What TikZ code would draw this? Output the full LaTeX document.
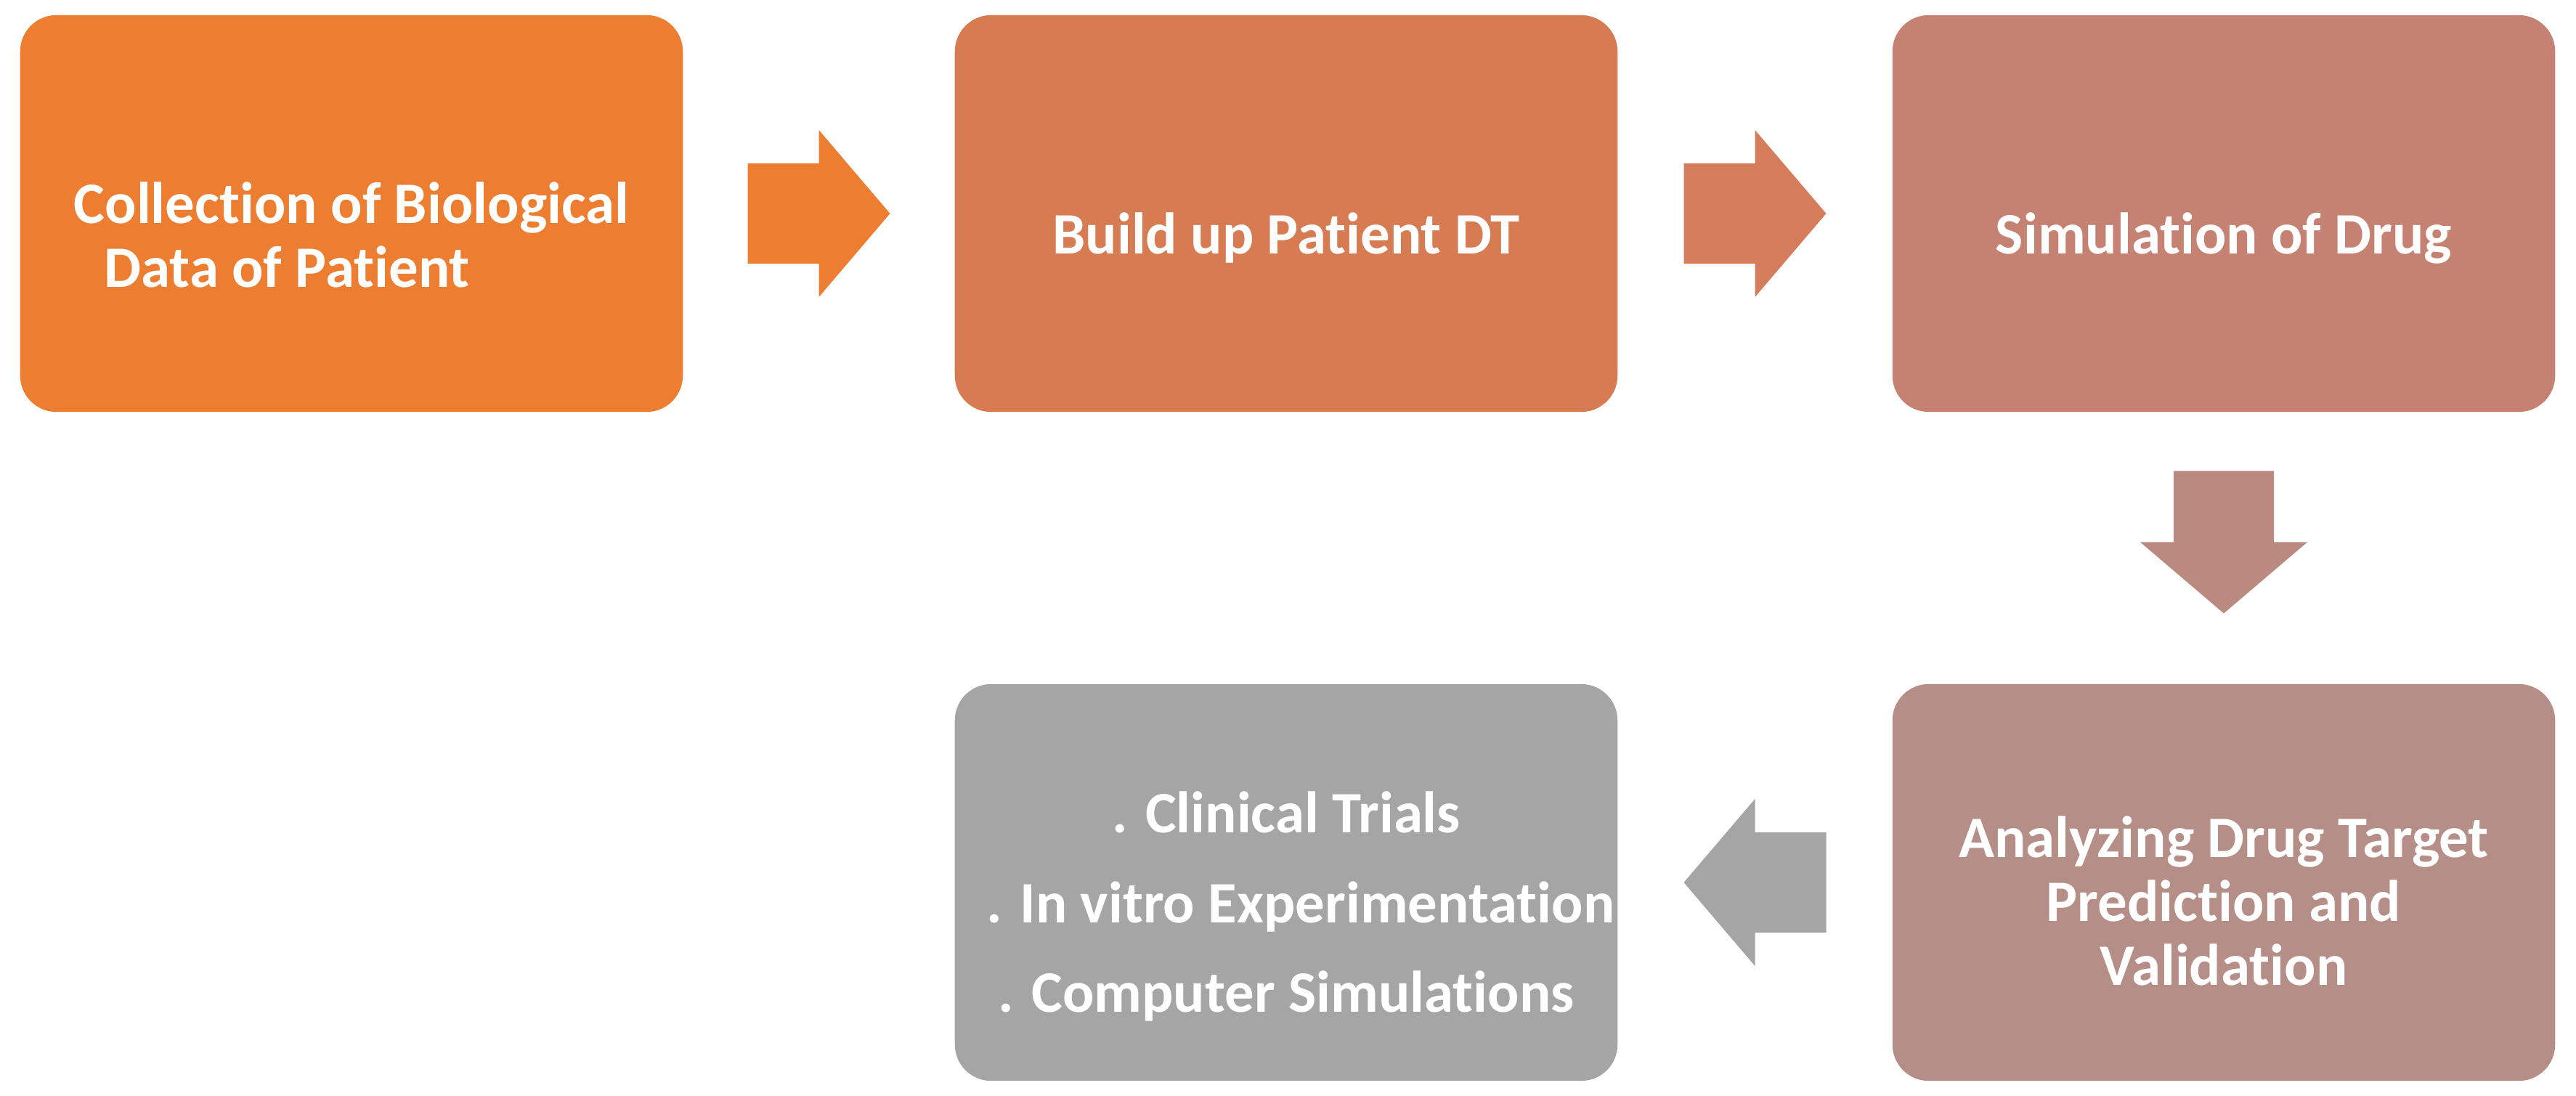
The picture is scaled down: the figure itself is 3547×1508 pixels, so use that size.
\documentclass[tikz,border=0pt]{standalone}
\usepackage{fontspec}
\setmainfont{Carlito}[Ligatures=NoCommon]
\usetikzlibrary{calc}
\definecolor{stageA}{HTML}{ED7D31}
\definecolor{stageB}{HTML}{D67B52}
\definecolor{stageC}{HTML}{C58272}
\definecolor{stageD}{HTML}{B48E87}
\definecolor{stageE}{HTML}{A5A5A5}
\definecolor{flowB}{HTML}{D57C5A}
\definecolor{flowC}{HTML}{BA8A80}
\tikzset{
  stage/.style={rounded corners=0.5cm, minimum width=9.12cm, minimum height=5.46cm, inner sep=0pt},
  stagetext/.style={text=white, font=\bfseries\fontsize{23}{25}\selectfont, align=center, inner sep=0pt}
}
\begin{document}
\begin{tikzpicture}[x=0.01cm, y=0.01cm]
  \useasboundingbox (0,0) rectangle (3547,1508);
  \path
    (484,1214) node[stage, fill=stageA] (collect){}
    (1771,1214) node[stage, fill=stageB] (build){}
    (3062,1214) node[stage, fill=stageC] (simulate){}
    (3062,293) node[stage, fill=stageD] (analyze){}
    (1771,293) node[stage, fill=stageE] (trials){};
  % texts
  \node[stagetext, align=left] (collect text) at ($(collect.center)+(0,-29)$)
    {Collection of Biological\\\hspace*{0.42cm}Data of Patient};
  \node[stagetext, anchor=base] (build text) at ($(build.center)+(0,-56)$) {Build up Patient DT};
  \node[stagetext, anchor=base] (simulate text) at ($(simulate.center)+(0,-56)$) {Simulation of Drug};
  \node[stagetext] (analyze text) at ($(analyze.center)+(0,-25)$)
    {Analyzing Drug Target\\Prediction and\\Validation};
  \node[stagetext, font=\bfseries\fontsize{23}{35}\selectfont] (trials text) at ($(trials.center)+(0,-33)$)
    {. Clinical Trials\\\hspace*{0.4cm}. In vitro Experimentation\\. Computer Simulations};
  % block arrows
  \path (collect.east) -- (build.west) coordinate[midway] (arrow 1);
  \path (build.east) -- (simulate.west) coordinate[midway] (arrow 2);
  \path (simulate.south) -- (analyze.north) coordinate[midway] (arrow 3);
  \path (analyze.west) -- (trials.east) coordinate[midway] (arrow 4);
  \fill[stageA, shift={(arrow 1)}]
    (-98,69) -- (0,69) -- (0,115) -- (98,0) -- (0,-115) -- (0,-69) -- (-98,-69) -- cycle;
  \fill[flowB, shift={(arrow 2)}]
    (-98,69) -- (0,69) -- (0,115) -- (98,0) -- (0,-115) -- (0,-69) -- (-98,-69) -- cycle;
  \fill[flowC, shift={(arrow 3)}, yshift=0.08cm, rotate=-90]
    (-98,69) -- (0,69) -- (0,115) -- (98,0) -- (0,-115) -- (0,-69) -- (-98,-69) -- cycle;
  \fill[stageE, shift={(arrow 4)}, rotate=180]
    (-98,69) -- (0,69) -- (0,115) -- (98,0) -- (0,-115) -- (0,-69) -- (-98,-69) -- cycle;
\end{tikzpicture}
\end{document}
